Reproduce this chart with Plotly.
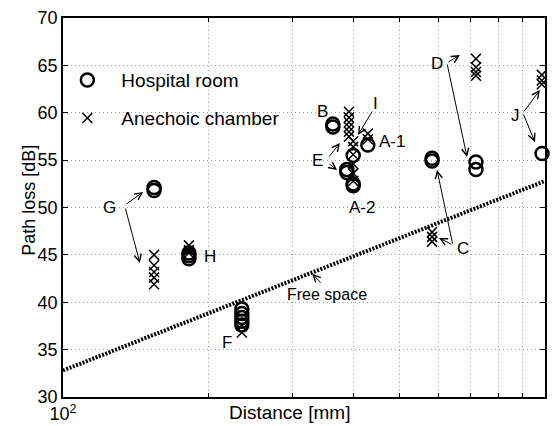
import math
import plotly.graph_objects as go

# ---------------- data ----------------
# Hospital room (circles): distance [mm], path loss [dB]
hospital_dist = [154.5, 154.5, 182.5, 182.5, 182.5,
                 235, 235, 235, 235, 235,
                 363, 363, 388, 388, 400, 400, 400,
                 429, 583, 583, 719, 719, 986]
hospital_pl = [51.8, 52.1, 44.6, 44.9, 45.2,
               39.3, 38.8, 38.4, 38.0, 37.6,
               58.5, 58.8, 53.7, 54.0, 55.5, 52.3, 52.5,
               56.6, 54.9, 55.2, 54.8, 54.0, 55.7]

# Anechoic chamber (crosses)
anechoic_dist = [154.5, 154.5, 154.5, 154.5, 154.5,
                 182.5, 182.5, 182.5,
                 235, 235,
                 392, 392, 392, 392, 392, 392,
                 400, 400, 400, 400, 400, 400,
                 429, 429,
                 583, 583, 583,
                 719, 719, 719, 719,
                 985, 985, 985]
anechoic_pl = [45.0, 43.9, 43.2, 42.6, 41.9,
               46.0, 45.5, 45.2,
               36.8, 37.5,
               60.1, 59.5, 59.0, 58.5, 58.0, 57.5,
               57.0, 56.4, 55.6, 54.6, 53.6, 52.8,
               57.8, 57.2,
               47.4, 46.9, 46.4,
               65.7, 64.8, 64.3, 63.9,
               64.0, 63.4, 63.0]

# Free-space model line
free_dist = [100, 1000]
free_pl = [32.8, 52.8]

# Axis ticks
x_tickvals = [100, 200, 300, 400, 500, 600, 700, 800, 900, 1000]
x_ticktext = ["10<sup>2</sup>", "", "", "", "", "", "", "", "", "10<sup>3</sup>"]
y_tickvals = [30, 35, 40, 45, 50, 55, 60, 65, 70]

# Labels (text, distance mm, dB)
labels = [("G", 125, 50.05), ("H", 202, 44.8), ("F", 219, 35.8),
          ("B", 346, 60.1), ("I", 446, 61.0), ("E", 338, 55.0),
          ("A-1", 481, 57.0), ("A-2", 417, 50.05), ("C", 676, 45.7),
          ("D", 597, 65.25), ("J", 867, 59.66), ("Free space", 353, 40.8)]

# Arrows: (tail dist, tail dB, head dist, head dB)
arrows = [(134.5, 50.26, 146.6, 51.64), (134.5, 50.05, 144.4, 44.14),
          (354.6, 55.22, 375.5, 56.81), (354.6, 54.70, 370.3, 53.96),
          (439.8, 60.29, 409.3, 57.65),
          (644, 46.04, 597, 53.96), (644, 46.04, 602.6, 46.78),
          (626, 65.25, 666, 66.10), (626, 65.25, 689, 55.33),
          (900, 59.97, 976, 62.40), (900, 59.97, 953, 56.91),
          (345, 41.9, 329, 43.0)]

FONT = "Liberation Sans, Arial, Helvetica, sans-serif"

fig = go.Figure()

fig.add_trace(go.Scatter(
    x=free_dist, y=free_pl, mode="lines", showlegend=False,
    line=dict(color="black", width=4, dash="2px,1.5px")))

fig.add_trace(go.Scatter(
    x=hospital_dist, y=hospital_pl, mode="markers", name="Hospital room",
    legend="legend", cliponaxis=False,
    marker=dict(symbol="circle-open", size=13, color="black",
                line=dict(width=2.5, color="black"))))

fig.add_trace(go.Scatter(
    x=anechoic_dist, y=anechoic_pl, mode="markers", name="Anechoic chamber",
    legend="legend2", cliponaxis=False,
    marker=dict(symbol="x-thin-open", size=10, color="black",
                line=dict(width=1.5, color="black"))))

annotations = []
for txt, d, pl in labels:
    annotations.append(dict(x=math.log10(d), y=pl, xref="x", yref="y",
                            text=txt, showarrow=False,
                            font=dict(family=FONT, size=17 if txt != "Free space" else 16,
                                      color="black")))
for td, tp, hd, hp in arrows:
    annotations.append(dict(x=math.log10(hd), y=hp, xref="x", yref="y",
                            ax=math.log10(td), ay=tp, axref="x", ayref="y",
                            text="", showarrow=True, arrowhead=5, arrowsize=1.4,
                            arrowwidth=1, arrowcolor="black", standoff=0))

annotations.append(dict(x=0.47, y=-0.04, xref="paper", yref="paper",
                        text="Distance [mm]", showarrow=False, yanchor="middle",
                        font=dict(family=FONT, size=19, color="black")))
annotations.append(dict(x=-0.071, y=0.52, xref="paper", yref="paper",
                        text="Path loss [dB]", showarrow=False, textangle=-90,
                        xanchor="center", yanchor="middle",
                        font=dict(family=FONT, size=18, color="black")))

legend_common = dict(bgcolor="rgba(0,0,0,0)", borderwidth=0, itemwidth=58,
                     font=dict(family=FONT, size=19, color="black"),
                     xanchor="left", yanchor="middle")

grid_common = dict(showgrid=True, gridcolor="#a0a0a0", griddash="1px,3px", gridwidth=1,
                   showline=True, linecolor="black", linewidth=1.5, mirror="ticks",
                   ticks="inside", tickcolor="black", zeroline=False, automargin=False,
                   tickfont=dict(family=FONT, size=18, color="black"))

fig.update_layout(
    width=555, height=426,
    margin=dict(l=63, r=10, t=18, b=29, autoexpand=False),
    paper_bgcolor="white", plot_bgcolor="white",
    font=dict(family=FONT, size=18, color="black"),
    annotations=annotations,
    legend=dict(x=-0.02, y=0.836, **legend_common),
    legend2=dict(x=-0.02, y=0.736, **legend_common),
    xaxis=dict(type="log", range=[2, 3], tickvals=x_tickvals, ticktext=x_ticktext,
               ticklen=4, **grid_common),
    yaxis=dict(range=[30, 70], tickvals=y_tickvals, ticklen=5, **grid_common),
)

fig.write_html("out.html", config={"displayModeBar": False},
               post_script="document.body.style.margin='0px';document.body.style.overflow='hidden';")
